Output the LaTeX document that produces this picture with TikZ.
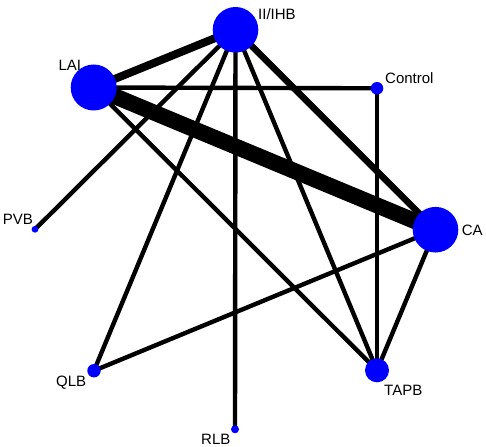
\documentclass[tikz,border=0pt]{standalone}
\usepackage{fontspec}
\setmainfont{Liberation Sans}
\usetikzlibrary{backgrounds}
\begin{document}
\begin{tikzpicture}[x=1pt,y=-1pt,
  dot/.style={circle, fill=blue, draw=none, inner sep=0pt, minimum size=#1},
  lbl/.style={anchor=base west, inner sep=0pt, font=\fontsize{15}{18}\selectfont},
  edge/.style={line width=#1, draw=black}]
\useasboundingbox (0,0) rectangle (486,446);
% nodes
\node[dot=45.6pt] (ii)   at (235.5,29.8) {};
\node[dot=46pt]   (lai)  at (93.7,87.5) {};
\node[dot=45.6pt] (ca)   at (435.5,229.7) {};
\node[dot=24pt]   (tapb) at (377,370.3) {};
\node[dot=13.4pt] (qlb)  at (94,370.7) {};
\node[dot=8pt]    (rlb)  at (235,429.3) {};
\node[dot=12.6pt] (ctrl) at (377,88.3) {};
\node[dot=6.8pt]  (pvb)  at (35,229.3) {};
% labels
\node[lbl] (lii)   at (258,20) {II/IHB};
\node[lbl] (llai)  at (58.3,70.7) {LAI};
\node[lbl] (lctrl) at (385,84) {Control};
\node[lbl] (lca)   at (461.7,235.7) {CA};
\node[lbl] (lpvb)  at (2.7,224.3) {PVB};
\node[lbl] (lqlb)  at (56,386.7) {QLB};
\node[lbl] (lrlb)  at (201,444.3) {RLB};
\node[lbl] (ltapb) at (384,395.3) {TAPB};
% edges
\begin{scope}[on background layer]
\draw[edge=16pt] (lai.center) -- (ca.center);
\draw[edge=8pt] (lai.center) -- (ii.center);
\draw[edge=6.5pt] (ii.center) -- (ca.center);
\draw[edge=4.4pt] (lai.center) -- (ctrl.center);
\draw[edge=4.4pt] (ctrl.center) -- (tapb.center);
\draw[edge=4.4pt] (ii.center) -- (pvb.center);
\draw[edge=4.4pt] (ii.center) -- (qlb.center);
\draw[edge=4.4pt] (ii.center) -- (rlb.center);
\draw[edge=4.4pt] (ii.center) -- (tapb.center);
\draw[edge=4.4pt] (lai.center) -- (tapb.center);
\draw[edge=4.4pt] (ca.center) -- (tapb.center);
\draw[edge=4.4pt] (qlb.center) -- (ca.center);
\end{scope}
\end{tikzpicture}
\end{document}
